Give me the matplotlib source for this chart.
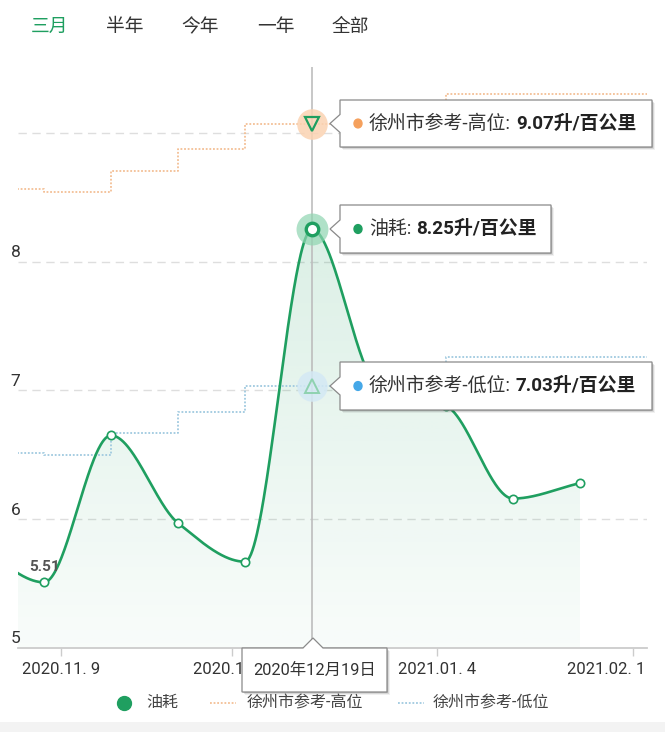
import numpy as np
import matplotlib
matplotlib.use('Agg')
import matplotlib.pyplot as plt
import matplotlib.transforms as mtransforms
from matplotlib.patches import Polygon, Rectangle, Circle
from matplotlib.lines import Line2D

plt.rcParams['font.family'] = ['Roboto', 'Noto Sans CJK SC', 'DejaVu Sans']

W, H = 665, 732

# data (one point every ~10 days, first point is just off the left edge)
tabs = ['三月', '半年', '今年', '一年', '全部']
fuel = [5.80, 5.51, 6.65, 5.97, 5.67, 8.25, 7.02, 6.88, 6.16, 6.28]
high = [8.56, 8.54, 8.70, 8.87, 9.07, 9.07, 9.07, 9.30, 9.30, 9.30, 9.30]
low = [6.51, 6.50, 6.67, 6.83, 7.03, 7.03, 7.03, 7.26, 7.26, 7.26, 7.26]
tick_labels = ['2020.11. 9', '2020.12. 7', '2021.01. 4', '2021.02. 1']
tick_pos = [0.26, 2.81, 5.87, 8.79]
series_names = ['油耗', '徐州市参考-高位', '徐州市参考-低位']
unit = '升/百公里'
sel = 4
sel_date = '2020年12月19日'

green = '#1f9f60'
orange_line = '#f3bf95'
blue_line = '#9fc9df'

x_fuel = np.arange(len(fuel)) - 1
x_ref = np.arange(len(high)) - 1


def pchip(x, y, xs):
    x = np.asarray(x, float)
    y = np.asarray(y, float)
    h = np.diff(x)
    d = np.diff(y) / h
    m = np.zeros_like(y)
    m[0], m[-1] = d[0], d[-1]
    for k in range(1, len(y) - 1):
        if d[k - 1] * d[k] > 0:
            w1 = 2 * h[k] + h[k - 1]
            w2 = h[k] + 2 * h[k - 1]
            m[k] = (w1 + w2) / (w1 / d[k - 1] + w2 / d[k])
    i = np.clip(np.searchsorted(x, xs) - 1, 0, len(x) - 2)
    t = (xs - x[i]) / h[i]
    h00 = 2 * t**3 - 3 * t**2 + 1
    h10 = t**3 - 2 * t**2 + t
    h01 = -2 * t**3 + 3 * t**2
    h11 = t**3 - t**2
    return h00 * y[i] + h10 * h[i] * m[i] + h01 * y[i + 1] + h11 * h[i] * m[i + 1]


def fp(x, y):
    return (x / W, 1 - y / H)


fig = plt.figure(figsize=(W / 100, H / 100), dpi=100)
ax = fig.add_axes([18 / W, 1 - 648 / H, (647 - 18) / W, (648 - 67) / H])
ax.set_xlim(-0.388, 9.0)
ax.set_ylim(5, 9.51)

for v in [6, 7, 8, 9]:
    ax.axhline(v, color='#dedede', lw=1, ls=(0, (6, 4)), zorder=1)

# smooth fuel line with gradient area
xs = np.linspace(x_fuel[0], x_fuel[-1], 800)
ys = pchip(x_fuel, fuel, xs)
poly = ax.fill_between(xs, ys, 5, color='none', lw=0)
grad = np.zeros((256, 1, 4))
grad[:, 0, 0:3] = matplotlib.colors.to_rgb(green)
grad[:, 0, 3] = np.linspace(0.03, 0.16, 256)
im = ax.imshow(grad, extent=[xs[0], xs[-1], 5, ys.max()], aspect='auto',
               origin='lower', zorder=1)
im.set_clip_path(poly.get_paths()[0], ax.transData)
ax.set_xlim(-0.388, 9.0)
ax.set_ylim(5, 9.51)

ax.step(x_ref, high, where='post', color=orange_line, lw=1.3, ls=(0, (1, 1)), zorder=2)
ax.step(x_ref, low, where='post', color=blue_line, lw=1.3, ls=(0, (1, 1)), zorder=2)
ax.plot(xs, ys, color=green, lw=1.9, zorder=3)

mask = x_fuel != sel
ax.plot(x_fuel[mask], np.array(fuel)[mask], 'o', ms=6, mfc='white', mec=green,
        mew=1.2, zorder=4)

ax.axvline(sel, color='#bdbdbd', lw=1.2, zorder=2)

# hovered point highlights
ax.plot(sel, high[sel + 1], 'o', ms=22, color='#fbd3b2', alpha=0.85, mew=0, zorder=5)
ax.plot(sel, high[sel + 1], 'v', ms=10, mfc='none', mec=green, mew=1.6, zorder=6)
ax.plot(sel, fuel[sel + 1], 'o', ms=23, color='#8fd5b1', alpha=0.7, mew=0, zorder=5)
ax.plot(sel, fuel[sel + 1], 'o', ms=9, mfc='white', mec=green, mew=2.4, zorder=6)
ax.plot(sel, low[sel + 1], 'o', ms=22, color='#d4e9f5', alpha=0.85, mew=0, zorder=5)
ax.plot(sel, low[sel + 1], '^', ms=10, mfc='none', mec='#8fd2b0', mew=1.4, zorder=6)

ax.annotate(f'{fuel[1]:.2f}', xy=(x_fuel[1], fuel[1]), xytext=(1, 15),
            textcoords='offset pixels', ha='center', va='center', fontsize=11,
            color='#555555', weight='bold', zorder=7)

# axes styling
for s in ['left', 'right', 'top']:
    ax.spines[s].set_visible(False)
ax.spines['bottom'].set_color('#cccccc')
ax.spines['bottom'].set_linewidth(1.3)
ax.set_yticks([])
ax.set_xticks(tick_pos, tick_labels)
ax.tick_params(axis='x', length=5.8, width=1, color='#cccccc', labelsize=12,
               labelcolor='#333333', pad=4)
lbl = ax.get_xticklabels()[-1]
lbl.set_ha('right')
lbl.set_transform(lbl.get_transform() + mtransforms.ScaledTranslation(12 / 100, 0, fig.dpi_scale_trans))

ytrans = mtransforms.blended_transform_factory(ax.transAxes, ax.transData)
for v in [5, 6, 7, 8]:
    ax.annotate(str(v), xy=(0, v), xycoords=ytrans, xytext=(-2.5, 9),
                textcoords='offset pixels', ha='center', va='center',
                fontsize=12.5, color='#333333', annotation_clip=False)

# tabs
tab_x = [50, 125, 200, 276, 350]
for i, (t, tx) in enumerate(zip(tabs, tab_x)):
    fig.text(*fp(tx, 27), t, ha='center', va='center', fontsize=13.5,
             color=green if i == 0 else '#333333')


def box(pts, z=10):
    pts = np.array(pts, float)
    for k, a in [(3, 0.06), (2, 0.10), (1, 0.14)]:
        sh = pts + [k, k]
        fig.add_artist(Polygon([fp(*p) for p in sh], closed=True, facecolor='black',
                               alpha=a, edgecolor='none', transform=fig.transFigure,
                               zorder=z - 1))
    fig.add_artist(Polygon([fp(*p) for p in pts], closed=True, facecolor='white',
                           edgecolor='#8a8a8a', lw=0.9, transform=fig.transFigure,
                           zorder=z))


def left_tip(x0, y0, x1, y1, dot_color, name, value):
    yc = (y0 + y1) / 2
    box([(x0, y0), (x1, y0), (x1, y1), (x0, y1), (x0, yc + 9), (x0 - 10, yc), (x0, yc - 9)])
    fig.add_artist(Circle(fp(358, yc), 4 / W, transform=fig.transFigure,
                          color=dot_color, zorder=11))
    t1 = fig.text(*fp(369, yc), name + ':', va='center', ha='left', fontsize=13.6,
                  color='#333333', zorder=11)
    bb = t1.get_window_extent(fig.canvas.get_renderer())
    fig.text(bb.x1 / W + 5 / W, 1 - yc / H, f'{value:.2f}{unit}', va='center', ha='left',
             fontsize=13.6, color='#222222', weight='bold', zorder=11)


left_tip(340, 100, 652, 147, '#f5a05c', series_names[1], high[sel + 1])
left_tip(340, 205, 551, 253, green, series_names[0], fuel[sel + 1])
left_tip(340, 362, 652, 410, '#45a8e8', series_names[2], low[sel + 1])

# date tooltip under crosshair
box([(242, 648), (303, 648), (313, 638), (323, 648), (387, 648), (387, 692), (242, 692)])
fig.text(*fp(314.5, 670), sel_date, ha='center', va='center', fontsize=11.8,
         color='#333333', zorder=11)

# legend
ly = 703
fig.add_artist(Line2D([124 / W], [1 - ly / H], marker='o', ms=10, color=green, lw=0,
                      transform=fig.transFigure))
fig.text(*fp(146, ly), series_names[0], va='center', fontsize=11.5, color='#444444')
fig.add_artist(Line2D([210 / W, 236 / W], [1 - ly / H] * 2, color=orange_line, lw=1.3,
                      ls=(0, (1, 1)), transform=fig.transFigure))
fig.text(*fp(247, ly), series_names[1], va='center', fontsize=11.5, color='#444444')
fig.add_artist(Line2D([398 / W, 424 / W], [1 - ly / H] * 2, color=blue_line, lw=1.3,
                      ls=(0, (1, 1)), transform=fig.transFigure))
fig.text(*fp(433, ly), series_names[2], va='center', fontsize=11.5, color='#444444')

fig.add_artist(Rectangle((0, 0), 1, 10 / H, facecolor='#f3f3f3', edgecolor='none',
                         transform=fig.transFigure, zorder=0))

fig.savefig('out.png', dpi=100)
